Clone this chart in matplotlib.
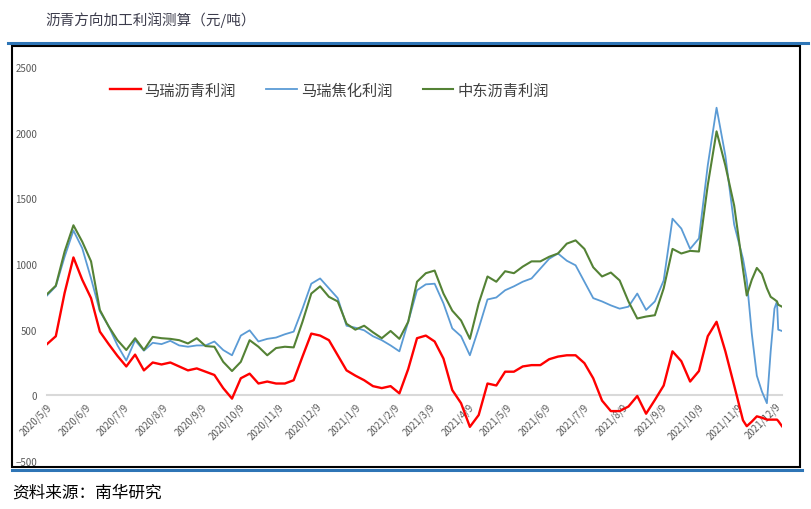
import matplotlib
matplotlib.use('Agg')
import matplotlib.pyplot as plt
import pandas as pd
from matplotlib.lines import Line2D
from matplotlib.patches import Rectangle

plt.rcParams['font.family'] = ['Noto Sans CJK SC', 'DejaVu Sans']

# weekly readings, then denser readings for the last month
weekly = pd.date_range('2020-05-09', periods=80, freq='7D')
tail = pd.to_datetime(['2021-11-16', '2021-11-20', '2021-11-24', '2021-11-28', '2021-12-02',
                       '2021-12-05', '2021-12-08', '2021-12-10', '2021-12-11', '2021-12-14'])
dates = weekly.append(tail)

mari_asphalt = [390, 450, 780, 1050, 880, 740, 485, 390, 300, 220,
                310, 190, 250, 235, 250, 220, 190, 205, 180, 155,
                55, -25, 130, 165, 90, 105, 90, 90, 115, 295,
                470, 455, 420, 305, 190, 150, 115, 70, 55, 70,
                15, 200, 435, 455, 410, 280, 40, -60, -240, -150,
                90, 75, 180, 180, 220, 230, 230, 275, 295, 305,
                305, 245, 130, -40, -120, -120, -85, -5, -140, -35,
                75, 335, 260, 105, 185, 450, 560, 335, 75, -190,
                -235, -200, -160, -170, -185, -185, -185, -185, -195, -235]

mari_coking = [760, 830, 1055, 1255, 1120, 890, 640, 525, 380, 265,
               420, 340, 400, 390, 415, 380, 370, 380, 380, 410,
               345, 305, 455, 495, 410, 430, 440, 465, 485, 660,
               850, 890, 815, 740, 530, 515, 495, 450, 420, 380,
               335, 560, 800, 845, 850, 700, 510, 450, 305, 510,
               730, 745, 800, 830, 865, 890, 965, 1040, 1080, 1025,
               990, 865, 740, 715, 685, 660, 675, 775, 650, 715,
               875, 1345, 1270, 1115, 1195, 1750, 2190, 1825, 1300, 1040,
               880, 470, 150, 30, -60, 335, 660, 715, 500, 490]

mideast_asphalt = [770, 835, 1095, 1295, 1170, 1020, 650, 525, 420, 345,
                   435, 345, 445, 435, 430, 420, 395, 435, 375, 370,
                   255, 185, 255, 420, 370, 305, 360, 370, 365, 560,
                   775, 830, 750, 715, 545, 500, 530, 480, 435, 490,
                   430, 560, 865, 930, 950, 775, 645, 570, 430, 700,
                   905, 865, 945, 930, 980, 1020, 1020, 1055, 1080, 1155,
                   1180, 1115, 975, 905, 935, 875, 715, 585, 600, 610,
                   815, 1115, 1080, 1100, 1095, 1600, 2010, 1750, 1445, 960,
                   760, 880, 970, 925, 815, 750, 730, 715, 690, 675]

tick_labels = ['2020/5/9', '2020/6/9', '2020/7/9', '2020/8/9', '2020/9/9', '2020/10/9',
               '2020/11/9', '2020/12/9', '2021/1/9', '2021/2/9', '2021/3/9', '2021/4/9',
               '2021/5/9', '2021/6/9', '2021/7/9', '2021/8/9', '2021/9/9', '2021/10/9',
               '2021/11/9', '2021/12/9']
tick_dates = pd.to_datetime(tick_labels, format='%Y/%m/%d')

W, H = 811, 510
fig = plt.figure(figsize=(W / 100, H / 100), dpi=100)

# page decoration: title, blue rules, black frame, source
fig.text(45 / W, 1 - 20 / H, '沥青方向加工利润测算（元/吨）', fontsize=10.5,
         color='#3c3c4c', va='center', ha='left')
fig.add_artist(Line2D([8 / W, 808 / W], [1 - 44 / H, 1 - 44 / H], color='#2e75b6', lw=2.2))
fig.add_artist(Rectangle((12 / W, 1 - 468 / H), 788 / W, 421 / H, fill=False,
                         ec='black', lw=1.5))
fig.add_artist(Line2D([12 / W, 802 / W], [1 - 471 / H, 1 - 471 / H], color='#2e75b6', lw=2.2))
fig.text(12 / W, 1 - 493 / H, '资料来源：南华研究', fontsize=12, color='black',
         va='center', ha='left')

ax = fig.add_axes([47 / W, 1 - 462 / H, (782 - 47) / W, (462 - 68) / H])
ax.patch.set_alpha(0)

for s in ['top', 'right', 'left']:
    ax.spines[s].set_visible(False)
ax.spines['bottom'].set_position(('data', 0))
ax.spines['bottom'].set_color('#d9d9d9')
ax.spines['bottom'].set_linewidth(1.5)

ax.plot(dates, mari_asphalt, color='#ff0000', lw=1.7, label='马瑞沥青利润', zorder=3)
ax.plot(dates, mari_coking, color='#5b9bd5', lw=1.3, label='马瑞焦化利润', zorder=3)
ax.plot(dates, mideast_asphalt, color='#548235', lw=1.5, label='中东沥青利润', zorder=3)

ax.set_xlim(pd.Timestamp('2020-05-09'), pd.Timestamp('2021-12-14'))
ax.set_ylim(-500, 2500)
ax.set_yticks(range(-500, 2501, 500))
ax.set_xticks(tick_dates)
ax.set_xticklabels(tick_labels)
ax.tick_params(axis='y', length=0, pad=7, labelsize=7, labelcolor='#595959')
ax.tick_params(axis='x', length=0, pad=4, labelsize=7, labelcolor='#595959')
plt.setp(ax.get_xticklabels(), rotation=45, ha='right', rotation_mode='anchor')

ax.legend(loc='center left', bbox_to_anchor=(110 / W, 1 - 91 / H), bbox_transform=fig.transFigure,
          ncol=3, frameon=False, fontsize=11, handlelength=2.0, handletextpad=0.25,
          columnspacing=2.0, borderpad=0, borderaxespad=0, labelcolor='#404040')

fig.savefig('out.png', dpi=100)
